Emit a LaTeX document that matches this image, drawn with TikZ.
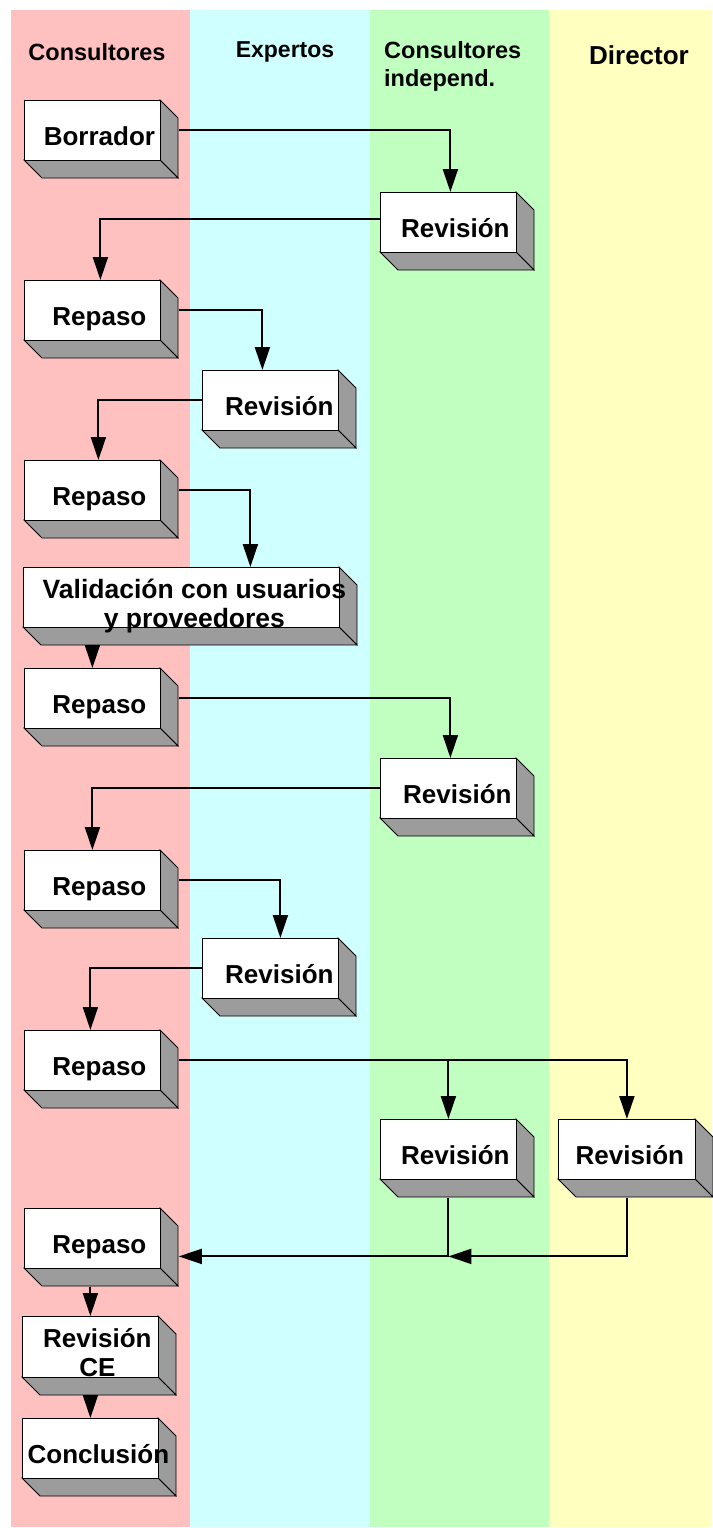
\documentclass[tikz,border=0pt]{standalone}
\usepackage{fontspec}
\setmainfont{Liberation Sans}
\usetikzlibrary{arrows.meta}
\definecolor{lanepink}{RGB}{255,192,192}
\definecolor{lanecyan}{RGB}{208,255,255}
\definecolor{lanegreen}{RGB}{192,255,192}
\definecolor{laneyellow}{RGB}{255,255,192}
\definecolor{shadegray}{RGB}{156,156,156}
\newcommand{\boxtext}[3][14]{\makebox[0pt]{\hspace{#1pt}\raisebox{-#2pt}[0pt][0pt]{\begin{tabular}[t]{@{}c@{}}#3\end{tabular}}}}
\newcommand{\cubox}[8][14]{%
  \filldraw[face] (#3+#5,#4) -- ++(18,18) -- ++(0,#6) -- ++(-18,-18) -- cycle;
  \filldraw[face] (#3,#4+#6) -- ++(#5,0) -- ++(18,18) -- ++(-#5,0) -- cycle;
  \node[front, minimum width=#5pt, minimum height=#6pt, anchor=north west] (#2) at (#3,#4) {\boxtext[#1]{#7}{#8}};
}
\tikzset{
  face/.style={fill=shadegray, draw=black, line width=0.8pt, line join=miter},
  front/.style={draw=black, fill=white, line width=0.8pt, inner sep=0pt, font=\fontsize{26}{29}\selectfont\bfseries},
  hdr/.style={inner sep=0pt, font=\fontsize{23.5}{28}\selectfont\bfseries},
  conn/.style={line width=2pt, line join=miter, -{Triangle[length=23pt,width=15pt]}},
}
\begin{document}
\begin{tikzpicture}[x=1pt, y=-1pt]
\useasboundingbox (0,0) rectangle (712,1528);
% lanes
\fill[lanepink] (11,10) rectangle (190,1527);
\fill[lanecyan] (190,10) rectangle (370,1527);
\fill[lanegreen] (370,10) rectangle (549,1527);
\fill[laneyellow] (549,10) rectangle (712,1527);
% headers
\node[hdr] (h1) at (97,52) {Consultores};
\node[hdr, font=\fontsize{23}{28}\selectfont\bfseries] (h2) at (285,52) {Expertos};
\node[hdr, anchor=west, align=left] (h3) at (384,66) {Consultores\\independ.};
\node[hdr, font=\fontsize{26}{30}\selectfont\bfseries] (h4) at (639,55) {Director};
% boxes
\cubox{bor}{24}{100}{136}{60}{15}{Borrador}
\cubox{rev1}{380}{192}{136}{60}{15}{Revisión}
\cubox{rep1}{24}{280}{136}{60}{15}{Repaso}
\cubox[18]{rev2}{202}{370}{136}{60}{15}{Revisión}
\cubox{rep2}{24}{460}{136}{60}{15}{Repaso}
\cubox[26]{val}{23}{567}{316}{60}{1}{\fontsize{26.5}{29}\selectfont Validación con usuarios\\\fontsize{26.5}{29}\selectfont y proveedores}
\cubox{rep3}{24}{668}{136}{60}{15}{Repaso}
\cubox[18]{rev3}{380}{758}{136}{60}{15}{Revisión}
\cubox{rep4}{24}{850}{136}{60}{15}{Repaso}
\cubox[18]{rev4}{202}{938}{136}{60}{15}{Revisión}
\cubox{rep5}{24}{1030}{136}{60}{15}{Repaso}
\cubox{rev5g}{380}{1119}{136}{60}{15}{Revisión}
\cubox[6]{rev5y}{558}{1119}{137}{60}{15}{Revisión}
\cubox{rep6}{24}{1208}{136}{60}{15}{Repaso}
\cubox{rce}{22}{1316}{136}{61}{1}{Revisión\\CE}
\cubox[16]{conc}{22}{1418}{136}{60}{15}{Conclusión}
% connectors
\draw[conn] ([xshift=18pt]bor.east) -| ([xshift=2pt]rev1.north);
\draw[conn] ([yshift=3pt]rev1.west) -| ([xshift=8pt]rep1.north);
\draw[conn] ([xshift=18pt]rep1.east) -| ([xshift=-8pt]rev2.north);
\draw[conn] (rev2.west) -| ([xshift=6pt]rep2.north);
\draw[conn] ([xshift=18pt]rep2.east) -| ([xshift=69pt]val.north);
\draw[conn] ([yshift=-18pt]val.south -| rep3.north) -- (rep3.north);
\draw[conn] ([xshift=18pt]rep3.east) -| ([xshift=2pt]rev3.north);
\draw[conn] (rev3.west) -| (rep4.north);
\draw[conn] ([xshift=18pt]rep4.east) -| ([xshift=10pt]rev4.north);
\draw[conn] (rev4.west) -| ([xshift=-2pt]rep5.north);
\draw[conn] ([xshift=18pt]rep5.east) -| (rev5y.north);
\draw[conn] (rep5.east -| rev5g.north) -- (rev5g.north);
\coordinate (mg) at ([yshift=-18pt]rev5g.south |- rep6.east);
\draw[conn] ([yshift=-18pt]rev5g.south) -- (mg) -- ([xshift=18pt,yshift=-18pt]rep6.east);
\draw[conn] ([yshift=-18pt]rev5y.south) |- (mg);
\draw[conn] ([yshift=-18pt]rep6.south -| rce.north) -- (rce.north);
\draw[conn] ([yshift=-18pt]rce.south) -- (conc.north);
\end{tikzpicture}
\end{document}
